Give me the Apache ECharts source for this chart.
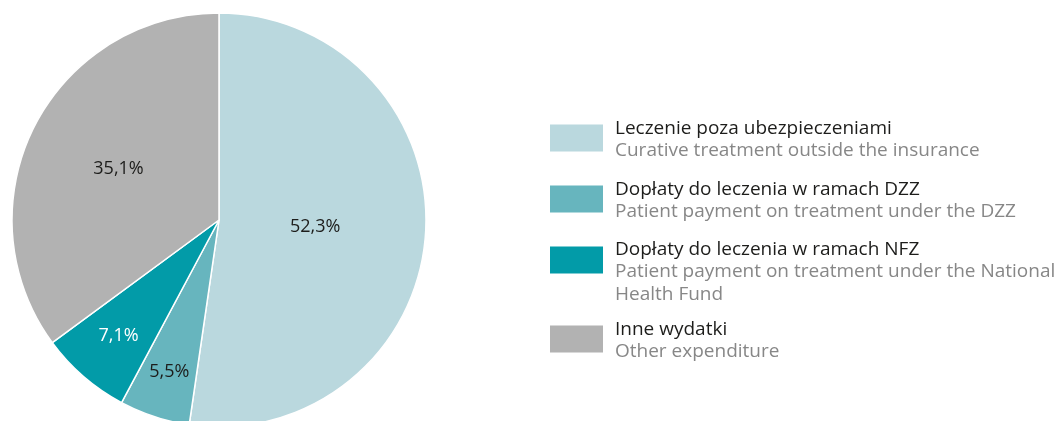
<!DOCTYPE html>
<html>
<head>
<meta charset="utf-8">
<script src="https://cdn.jsdelivr.net/npm/echarts@6/dist/echarts.min.js"></script>
<style>
  html, body { margin: 0; padding: 0; background: #ffffff; }
  #chart { width: 1056px; height: 421px; }
</style>
</head>
<body>
<div id="chart"></div>
<script>
// Structure of out-of-pocket expenditure (shares, %)
const categories = [
  'Leczenie poza ubezpieczeniami',
  'Dopłaty do leczenia w ramach DZZ',
  'Dopłaty do leczenia w ramach NFZ',
  'Inne wydatki'
];
const subtitles = [
  ['Curative treatment outside the insurance'],
  ['Patient payment on treatment under the DZZ'],
  ['Patient payment on treatment under the National', 'Health Fund'],
  ['Other expenditure']
];
const values = [52.3, 5.5, 7.1, 35.1];
const colors = ['#bad8de', '#67b5be', '#029ba8', '#b2b2b2'];
const labelColors = ['#1d1d1b', '#1d1d1b', '#ffffff', '#1d1d1b'];

// Layout
const FONT = 'Open Sans';
const cx = 219, cy = 220, R = 207;
const labelRadius = [0.466, 0.77, 0.742, 0.544];
const legendTops = [119, 180, 240, 320];
const titleLH = 21, subLH = 23;

const total = values.reduce((a, b) => a + b, 0);
function midAngle(i) {
  let acc = 0;
  for (let k = 0; k < i; k++) acc += values[k];
  return ((acc + values[i] / 2) / total) * 2 * Math.PI;
}

const legends = categories.map((name, i) => {
  const padTop = subtitles[i].length === 1 ? 4 : 25;
  return {
    show: true,
    orient: 'vertical',
    left: 550,
    top: legendTops[i],
    padding: 0,
    itemGap: 0,
    itemWidth: 53,
    itemHeight: 27,
    icon: 'rect',
    selectedMode: false,
    itemStyle: { borderWidth: 0 },
    data: [{ name: name, textStyle: { padding: [padTop, 0, 0, 7] } }],
    formatter: function (n) {
      const idx = categories.indexOf(n);
      return ['{a|' + n + '}'].concat(subtitles[idx].map(s => '{b|' + s + '}')).join('\n');
    },
    textStyle: {
      fontFamily: FONT,
      rich: {
        a: { fontFamily: FONT, fontSize: 19, color: '#1d1d1b', lineHeight: titleLH },
        b: { fontFamily: FONT, fontSize: 19, color: '#878787', lineHeight: subLH }
      }
    }
  };
});

const chart = echarts.init(document.getElementById('chart'), null, { renderer: 'canvas' });
chart.setOption({
  animation: false,
  backgroundColor: '#ffffff',
  legend: legends,
  series: [{
    type: 'pie',
    center: [cx, cy],
    radius: [0, R],
    startAngle: 90,
    clockwise: true,
    avoidLabelOverlap: false,
    itemStyle: { borderColor: '#ffffff', borderWidth: 1.5 },
    emphasis: { disabled: true },
    label: {
      show: true,
      position: 'inside',
      fontFamily: FONT,
      fontSize: 18,
      formatter: p => p.value.toFixed(1).replace('.', ',') + '%'
    },
    labelLine: { show: false },
    labelLayout: function (params) {
      const i = params.dataIndex;
      const a = midAngle(i);
      const r = R * labelRadius[i];
      return { x: cx + Math.sin(a) * r, y: cy - Math.cos(a) * r };
    },
    data: categories.map((name, i) => ({
      name: name,
      value: values[i],
      itemStyle: { color: colors[i] },
      label: { color: labelColors[i] }
    }))
  }]
});
</script>
</body>
</html>
